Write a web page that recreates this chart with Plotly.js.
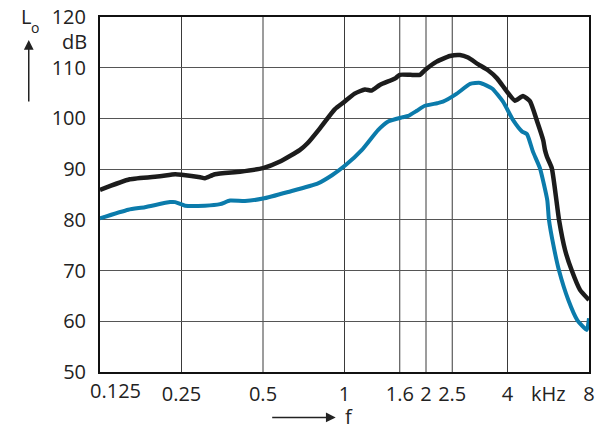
<!DOCTYPE html>
<html>
<head>
<meta charset="utf-8">
<script src="https://cdn.plot.ly/plotly-3.0.1.min.js"></script>
<style>html,body{margin:0;padding:0;background:#fff}#chart{width:605px;height:426px}</style>
</head>
<body>
<div id="chart"></div>
<script>
// Frequency in kHz, level in dB
var blackF = [0.125,0.161,0.208,0.237,0.25,0.293,0.305,0.332,0.411,0.5,0.578,0.685,0.73,0.81,0.92,1.0,1.09,1.19,1.26,1.35,1.54,1.6,1.75,1.90,1.98,2.19,2.45,2.67,2.86,3.11,3.39,3.66,3.98,4.26,4.56,4.84,5.14,5.42,5.50,5.60,5.83,6.20,6.53,6.91,7.41,8.0];
var blackL = [85.9,88.0,88.6,89.0,88.9,88.4,88.2,89.0,89.5,90.2,91.5,93.8,95.1,98.0,101.8,103.3,104.9,105.7,105.5,106.6,107.9,108.6,108.6,108.6,109.5,111.2,112.3,112.5,112.0,110.7,109.5,107.9,105.3,103.5,104.4,103.4,99.5,95.7,93.8,92.4,90.2,80.0,74.0,70.0,66.2,64.2];

var blueF = [0.125,0.159,0.183,0.227,0.237,0.258,0.305,0.347,0.378,0.429,0.5,0.619,0.798,0.899,1.01,1.16,1.33,1.45,1.63,1.72,1.85,1.98,2.2,2.31,2.60,2.91,3.17,3.51,3.85,4.19,4.53,4.72,4.97,5.27,5.61,5.69,5.91,6.20,6.71,7.25,7.85,8.0];
var blueL = [80.3,82.0,82.5,83.5,83.5,82.8,82.8,83.1,83.8,83.7,84.2,85.5,87.2,88.8,90.8,93.8,97.7,99.4,100.2,100.5,101.5,102.5,103.0,103.3,104.9,106.8,107.0,105.9,103.3,99.7,97.4,96.9,93.4,90.2,83.9,80.0,75.0,70.0,64.2,60.2,58.3,60.6];

var gridF = [0.25,0.5,1,1.6,2,2.5,4];
var xTickVals = [0.25,0.5,1,1.6,2,2.5,4,5.657,8];
var xTickText = ['0.25','0.5','1','1.6','2','2.5','4','kHz','8'];
var yTickVals = [50,60,70,80,90,100,110,120];

var FONT = 'Open Sans, Noto Sans, sans-serif';

var shapes = gridF.map(function(f){
  return {type:'line', xref:'x', yref:'paper', x0:f, x1:f, y0:0, y1:1,
          line:{color:'#3a3a3a', width:1}, layer:'below'};
});

var data = [
  {x: blueF, y: blueL, type:'scatter', mode:'lines',
   line:{color:'#0b7bab', width:4, shape:'spline', smoothing:0.5}, hoverinfo:'none'},
  {x: blackF, y: blackL, type:'scatter', mode:'lines',
   line:{color:'#1c1c1c', width:4.5, shape:'spline', smoothing:0.5}, hoverinfo:'none'}
];

var layout = {
  width:605, height:426,
  margin:{l:100, r:16, t:17, b:54},
  paper_bgcolor:'#fff', plot_bgcolor:'#fff',
  showlegend:false,
  font:{family:FONT, size:20, color:'#222'},
  xaxis:{type:'log', range:[Math.log10(0.125), Math.log10(8)],
         tickvals:xTickVals, ticktext:xTickText, showgrid:false, zeroline:false,
         showline:true, mirror:true, linecolor:'#111', linewidth:2,
         ticks:'', ticklabelstandoff:3, tickfont:{family:FONT, size:20, color:'#222'}},
  yaxis:{range:[50,120], tickvals:yTickVals, showgrid:true, gridcolor:'#555', gridwidth:1,
         zeroline:false, showline:true, mirror:true, linecolor:'#111', linewidth:2,
         ticks:'', ticklabelstandoff:8, tickfont:{family:FONT, size:20, color:'#222'}},
  shapes: shapes,
  annotations:[
    {xref:'paper', yref:'paper', x:0.0327, y:0, yshift:-3, text:'0.125', showarrow:false,
     xanchor:'center', yanchor:'top', font:{family:FONT, size:20, color:'#222'}},
    {xref:'paper', yref:'paper', x:-0.0225, y:0.93, text:'dB', showarrow:false,
     xanchor:'right', yanchor:'middle', font:{family:FONT, size:20, color:'#222'}},
    {xref:'paper', yref:'paper', x:-0.1656, y:(372-16)/355, text:'L', showarrow:false,
     xanchor:'left', yanchor:'middle', font:{family:FONT, size:20, color:'#222'}},
    {xref:'paper', yref:'paper', x:-0.1462, y:(372-28)/355, text:'o', showarrow:false,
     xanchor:'left', yanchor:'middle', font:{family:FONT, size:14, color:'#222'}},
    {xref:'paper', yref:'paper', x:-0.1457, y:0.935, ax:0, ay:63, text:'', showarrow:true,
     arrowhead:2, arrowsize:1.3, arrowwidth:1.5, arrowcolor:'#222'},
    {xref:'paper', yref:'paper', x:0.482, y:-0.128, ax:-65, ay:0, text:'', showarrow:true,
     arrowhead:2, arrowsize:1.3, arrowwidth:1.5, arrowcolor:'#222'},
    {xref:'paper', yref:'paper', x:0.496, y:(372-416)/355, text:'f', showarrow:false,
     height:20, xanchor:'left', yanchor:'middle', font:{family:FONT, size:20, color:'#222'}}
  ]
};

Plotly.newPlot('chart', data, layout, {staticPlot:true, displayModeBar:false});
</script>
</body>
</html>
